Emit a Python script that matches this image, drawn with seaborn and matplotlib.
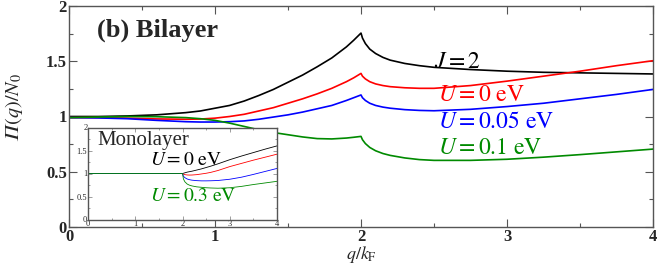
import numpy as np
import pandas as pd
import matplotlib
matplotlib.use("Agg")
import matplotlib.pyplot as plt
import seaborn as sns
from matplotlib.ticker import MultipleLocator

# ---------------- data ----------------
q_bi = [0, 0.2, 0.4, 0.6, 0.8, 0.9, 1.0, 1.1, 1.2, 1.3, 1.4, 1.5, 1.6, 1.7, 1.8, 1.9, 1.95, 2.0,
        2.01, 2.03, 2.06, 2.1, 2.15, 2.2, 2.3, 2.4, 2.5, 2.75, 3.0, 3.25, 3.5, 3.75, 4.0]
pi_J2 = [1.000, 1.000, 1.005, 1.015, 1.035, 1.05, 1.075, 1.10, 1.14, 1.19, 1.245, 1.31, 1.375, 1.45,
         1.53, 1.63, 1.69, 1.755,
         1.71, 1.66, 1.61, 1.57, 1.535, 1.51, 1.48, 1.46, 1.445, 1.425, 1.41, 1.40, 1.395, 1.39, 1.385]
pi_U0 = [0.99, 0.99, 0.985, 0.978, 0.975, 0.977, 0.985, 1.00, 1.02, 1.05, 1.08, 1.12, 1.16, 1.205,
         1.255, 1.315, 1.35, 1.39,
         1.365, 1.34, 1.315, 1.295, 1.28, 1.27, 1.26, 1.255, 1.255, 1.28, 1.32, 1.365, 1.41, 1.46, 1.505]
pi_U005 = [0.99, 0.987, 0.98, 0.965, 0.953, 0.95, 0.95, 0.953, 0.96, 0.975, 0.995, 1.015, 1.04, 1.07,
           1.10, 1.145, 1.17, 1.195,
           1.17, 1.145, 1.12, 1.10, 1.085, 1.075, 1.062, 1.055, 1.052, 1.065, 1.09, 1.12, 1.16, 1.20, 1.245]
pi_U01 = [0.99, 0.995, 1.0, 0.998, 0.99, 0.98, 0.965, 0.94, 0.91, 0.88, 0.855, 0.835, 0.815, 0.80,
          0.797, 0.805, 0.812, 0.82,
          0.79, 0.755, 0.72, 0.69, 0.665, 0.648, 0.625, 0.61, 0.603, 0.603, 0.613, 0.632, 0.655, 0.68, 0.705]

q_mono = [0, 1, 2, 2.02, 2.05, 2.1, 2.15, 2.2, 2.3, 2.4, 2.5, 2.6, 2.75, 3.0, 3.25, 3.5, 3.75, 4.0]
mono_a = [1, 1, 1, 1.005, 1.015, 1.03, 1.04, 1.05, 1.075, 1.10, 1.13, 1.16, 1.21, 1.30, 1.38, 1.455, 1.53, 1.60]
mono_b = [1, 1, 1, 0.985, 0.975, 0.968, 0.966, 0.967, 0.975, 0.99, 1.005, 1.025, 1.065, 1.15, 1.22, 1.29, 1.355, 1.42]
mono_c = [1, 1, 1, 0.94, 0.91, 0.88, 0.865, 0.855, 0.845, 0.84, 0.84, 0.842, 0.848, 0.875, 0.92, 0.98, 1.045, 1.11]
mono_d = [1, 1, 1, 0.88, 0.82, 0.77, 0.745, 0.73, 0.71, 0.70, 0.69, 0.685, 0.68, 0.69, 0.72, 0.76, 0.795, 0.83]

series_bi = ["J=2", "U=0", "U=0.05", "U=0.1"]
series_mono = ["a", "b", "c", "d"]
colors = ["black", "#ff0000", "#0000ff", "#008a00"]

x_ticks = [0, 1, 2, 3, 4]
y_ticks = [0, 0.5, 1, 1.5, 2]
y_ticklabels = ["0", "0.5", "1", "1.5", "2"]

# ---------------- tables ----------------
df_bi = pd.concat([pd.DataFrame({"q": q_bi, "Pi": v, "s": n})
                   for n, v in zip(series_bi, [pi_J2, pi_U0, pi_U005, pi_U01])])
df_mono = pd.concat([pd.DataFrame({"q": q_mono, "Pi": v, "s": n})
                     for n, v in zip(series_mono, [mono_a, mono_b, mono_c, mono_d])])

# ---------------- style ----------------
sns.set_theme(style="ticks")
plt.rcParams["font.family"] = ["Liberation Serif", "DejaVu Serif"]
plt.rcParams["mathtext.fontset"] = "stix"

fig = plt.figure(figsize=(6.65, 2.63), dpi=100)
ax = fig.add_axes([69/665, 1-227/263, (653-69)/665, (227-6)/263])

sns.lineplot(data=df_bi, x="q", y="Pi", hue="s", hue_order=series_bi, palette=colors,
             estimator=None, legend=False, lw=1.2, ax=ax)

ax.set_xlim(0, 4)
ax.set_ylim(0, 2)
ax.set_xticks(x_ticks)
ax.set_xticklabels([str(t) for t in x_ticks])
ax.set_yticks(y_ticks)
ax.set_yticklabels(y_ticklabels)
ax.xaxis.set_minor_locator(MultipleLocator(0.5))
ax.yaxis.set_minor_locator(MultipleLocator(0.25))
ax.tick_params(which="both", direction="in", top=True, right=True, color="#555555")
ax.tick_params(which="major", length=6, width=0.8, labelsize=12, pad=1.5)
ax.tick_params(which="minor", length=3, width=0.8)
for lab in ax.get_xticklabels() + ax.get_yticklabels():
    lab.set_fontweight("bold")
for sp in ax.spines.values():
    sp.set_color("#555555")
    sp.set_linewidth(1.0)
ax.set_xlabel(r"$q/k_{\rm F}$", fontsize=13)
ax.xaxis.set_label_coords(0.5, -0.075)
ax.set_ylabel("$\\mathrm{\U0001D6F1}(q)/N_0$", fontsize=14.5)
ax.yaxis.set_label_coords(-0.076, 0.54)

ax.text(0.19, 1.78, "(b) Bilayer", fontsize=19, fontweight="bold", va="center")
ax.text(2.5, 1.49, r"$J=2$", fontsize=17, color="black", va="center")
ax.text(2.53, 1.19, r"$U=\mathrm{0\ eV}$", fontsize=17, color="#ff0000", va="center")
ax.text(2.53, 0.95, r"$U=\mathrm{0.05\ eV}$", fontsize=17, color="#0000ff", va="center")
ax.text(2.53, 0.71, r"$U=\mathrm{0.1\ eV}$", fontsize=17, color="#008a00", va="center")

# ---------------- inset ----------------
axi = fig.add_axes([88/665, 1-219.5/263, (277-88)/665, (219.5-127.5)/263])
axi.set_facecolor("white")
sns.lineplot(data=df_mono, x="q", y="Pi", hue="s", hue_order=series_mono, palette=colors,
             estimator=None, legend=False, lw=0.6, ax=axi)
axi.set_xlim(0, 4)
axi.set_ylim(0, 2)
axi.set_xticks(x_ticks)
axi.set_xticklabels([str(t) for t in x_ticks])
axi.set_yticks(y_ticks)
axi.set_yticklabels(y_ticklabels)
axi.xaxis.set_minor_locator(MultipleLocator(0.5))
axi.yaxis.set_minor_locator(MultipleLocator(0.25))
axi.tick_params(which="both", direction="in", top=True, right=True, color="#777777")
axi.tick_params(which="major", length=3, width=0.5, labelsize=6, pad=0.5)
axi.tick_params(which="minor", length=1.5, width=0.5)
for sp in axi.spines.values():
    sp.set_color("#555555")
    sp.set_linewidth(1.0)
axi.set_xlabel("")
axi.set_ylabel("")
axi.text(0.19, 1.71, "Monolayer", fontsize=15, va="center")
axi.text(1.31, 1.29, r"$U=\mathrm{0\ eV}$", fontsize=14, color="black", va="center")
axi.text(1.31, 0.51, r"$U=\mathrm{0.3\ eV}$", fontsize=14, color="#008a00", va="center")

fig.savefig("out.png", dpi=100)
